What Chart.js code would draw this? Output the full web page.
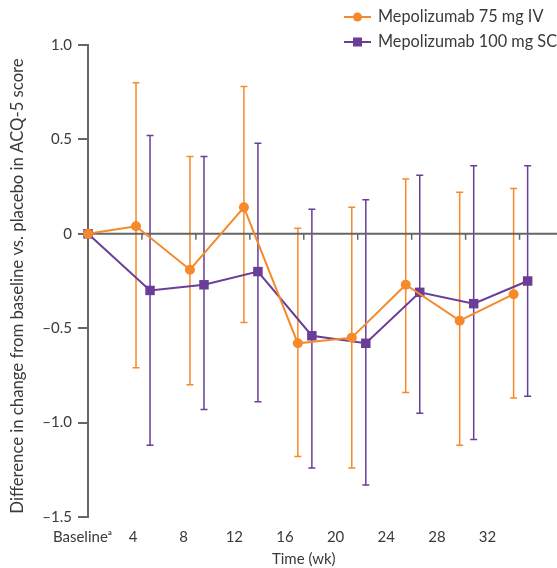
<!DOCTYPE html>
<html>
<head>
<meta charset="utf-8">
<script src="https://cdn.jsdelivr.net/npm/chart.js@4.4.1/dist/chart.umd.min.js"></script>
<style>
  html, body { margin: 0; padding: 0; background: #fff; }
  #wrap { position: relative; width: 557px; height: 568px; }
</style>
</head>
<body>
<div id="wrap"><canvas id="acq"></canvas></div>
<script>
// ---- data ----
const weekLabels = ['Baselineᵃ', '4', '8', '12', '16', '20', '24', '28', '32'];
const yTicks = [1.0, 0.5, 0, -0.5, -1.0, -1.5];

const ivMean = [0, 0.04, -0.19, 0.14, -0.58, -0.55, -0.27, -0.46, -0.32];
const ivLow  = [0, -0.71, -0.80, -0.47, -1.18, -1.24, -0.84, -1.12, -0.87];
const ivHigh = [0, 0.80, 0.41, 0.78, 0.03, 0.14, 0.29, 0.22, 0.24];

const scMean = [0, -0.30, -0.27, -0.20, -0.54, -0.58, -0.31, -0.37, -0.25];
const scLow  = [0, -1.12, -0.93, -0.89, -1.24, -1.33, -0.95, -1.09, -0.86];
const scHigh = [0, 0.52, 0.41, 0.48, 0.13, 0.18, 0.31, 0.36, 0.36];

const seriesNames = ['Mepolizumab 75 mg IV', 'Mepolizumab 100 mg SC'];
const xTitle = 'Time (wk)';
const yTitle = 'Difference in change from baseline vs. placebo in ACQ-5 score';

// ---- style ----
const ORANGE = '#f6892a';
const PURPLE = '#6a3d98';
const AXIS = '#666666';
const TEXT = '#3a3a3a';
const FONT = 'Lato';
const IV_SHIFT = -0.11;   // small dodge so the bars don't overlap
const SC_SHIFT = 0.15;

function toPoints(vals, shift) {
  return vals.map((v, i) => ({ x: i === 0 ? i : i + shift, y: v }));
}

function fmtTick(v) {
  if (v === 0) return '0';
  return (v < 0 ? '\u2013' : '') + Math.abs(v).toFixed(1);
}

// error bars, drawn under the lines
const errorBars = {
  id: 'errorBars',
  beforeDatasetsDraw(chart) {
    const { ctx, scales } = chart;
    chart.data.datasets.forEach((ds, di) => {
      const meta = chart.getDatasetMeta(di);
      ctx.save();
      ctx.strokeStyle = ds.borderColor;
      ctx.lineWidth = 1.5;
      meta.data.forEach((pt, i) => {
        if (ds.errLow[i] === ds.errHigh[i]) return;
        const x = pt.x;
        const yl = scales.y.getPixelForValue(ds.errLow[i]);
        const yh = scales.y.getPixelForValue(ds.errHigh[i]);
        ctx.beginPath();
        ctx.moveTo(x, yl); ctx.lineTo(x, yh);
        ctx.moveTo(x - 3.5, yl); ctx.lineTo(x + 3.5, yl);
        ctx.moveTo(x - 3.5, yh); ctx.lineTo(x + 3.5, yh);
        ctx.stroke();
      });
      ctx.restore();
    });
  }
};

// zero line + its small ticks, axis titles, legend
const extras = {
  id: 'extras',
  beforeDatasetsDraw(chart) {
    const { ctx, scales, chartArea } = chart;
    const y0 = scales.y.getPixelForValue(0);
    ctx.save();
    ctx.strokeStyle = AXIS;
    ctx.lineWidth = 2;
    ctx.beginPath();
    ctx.moveTo(chartArea.left, y0); ctx.lineTo(chart.width, y0);
    ctx.stroke();
    ctx.lineWidth = 1.5;
    for (let i = 1; i < weekLabels.length; i++) {
      const x = scales.x.getPixelForValue(i);
      ctx.beginPath();
      ctx.moveTo(x, y0); ctx.lineTo(x, y0 + 6);
      ctx.stroke();
    }
    ctx.restore();
  },
  afterDraw(chart) {
    const { ctx, scales } = chart;
    ctx.save();
    // x title, centred under the data range
    ctx.fillStyle = TEXT;
    ctx.font = '15px ' + FONT;
    ctx.textAlign = 'center';
    ctx.textBaseline = 'middle';
    ctx.fillText(xTitle, scales.x.getPixelForValue((weekLabels.length - 1) / 2), 559);

    // y title
    ctx.save();
    ctx.translate(18, 286);
    ctx.rotate(-Math.PI / 2);
    ctx.font = '16.7px ' + FONT;
    ctx.fillText(yTitle, 0, 0);
    ctx.restore();

    // legend
    const rows = [
      { name: seriesNames[0], color: ORANGE, shape: 'circle', y: 17 },
      { name: seriesNames[1], color: PURPLE, shape: 'square', y: 42 }
    ];
    rows.forEach(r => {
      ctx.strokeStyle = r.color;
      ctx.lineWidth = 2;
      ctx.beginPath();
      ctx.moveTo(344, r.y); ctx.lineTo(371, r.y);
      ctx.stroke();
      ctx.fillStyle = r.color;
      if (r.shape === 'circle') {
        ctx.beginPath();
        ctx.arc(357.5, r.y, 4.5, 0, Math.PI * 2);
        ctx.fill();
      } else {
        ctx.fillRect(353, r.y - 4.5, 9, 9);
      }
      ctx.fillStyle = TEXT;
      ctx.font = '16.3px ' + FONT;
      ctx.textAlign = 'left';
      ctx.fillText(r.name, 378, r.y);
    });
    ctx.restore();
  }
};

new Chart(document.getElementById('acq'), {
  type: 'line',
  data: {
    datasets: [
      {
        label: seriesNames[0],
        data: toPoints(ivMean, IV_SHIFT),
        errLow: ivLow, errHigh: ivHigh,
        borderColor: ORANGE, backgroundColor: ORANGE,
        borderWidth: 2, pointStyle: 'circle', pointRadius: 5,
        pointBorderWidth: 0, clip: false
      },
      {
        label: seriesNames[1],
        data: toPoints(scMean, SC_SHIFT),
        errLow: scLow, errHigh: scHigh,
        borderColor: PURPLE, backgroundColor: PURPLE,
        borderWidth: 2, pointStyle: 'rect', pointRadius: 6.7,
        pointBorderWidth: 0, clip: false
      }
    ]
  },
  options: {
    responsive: true,
    maintainAspectRatio: false,
    animation: false,
    layout: { padding: { top: 45, left: 0, right: 0, bottom: 0 } },
    plugins: { legend: { display: false }, tooltip: { enabled: false } },
    scales: {
      x: {
        type: 'linear', display: false,
        min: 0, max: 8.57
      },
      xl: {
        type: 'linear', position: 'bottom',
        min: 0.11, max: 9.24,
        afterBuildTicks: s => { s.ticks = weekLabels.map((_, i) => ({ value: i })); },
        afterFit: s => { s.height = 51; s.paddingLeft = 0; s.paddingRight = 0; },
        grid: { display: false, drawTicks: false },
        border: { display: false },
        ticks: {
          autoSkip: false, maxRotation: 0, padding: 11,
          color: TEXT, font: { family: FONT, size: 15 },
          callback: v => weekLabels[v]
        }
      },
      y: {
        min: -1.5, max: 1.0,
        afterBuildTicks: s => { s.ticks = yTicks.map(v => ({ value: v })); },
        afterFit: s => { s.width = 88; },
        border: { display: true, color: AXIS, width: 2 },
        grid: {
          drawOnChartArea: false,
          tickColor: AXIS, lineWidth: 2, tickLength: 10
        },
        ticks: {
          padding: 6, color: TEXT, font: { family: FONT, size: 15 },
          callback: v => fmtTick(v)
        }
      }
    }
  },
  plugins: [errorBars, extras]
});
</script>
</body>
</html>
